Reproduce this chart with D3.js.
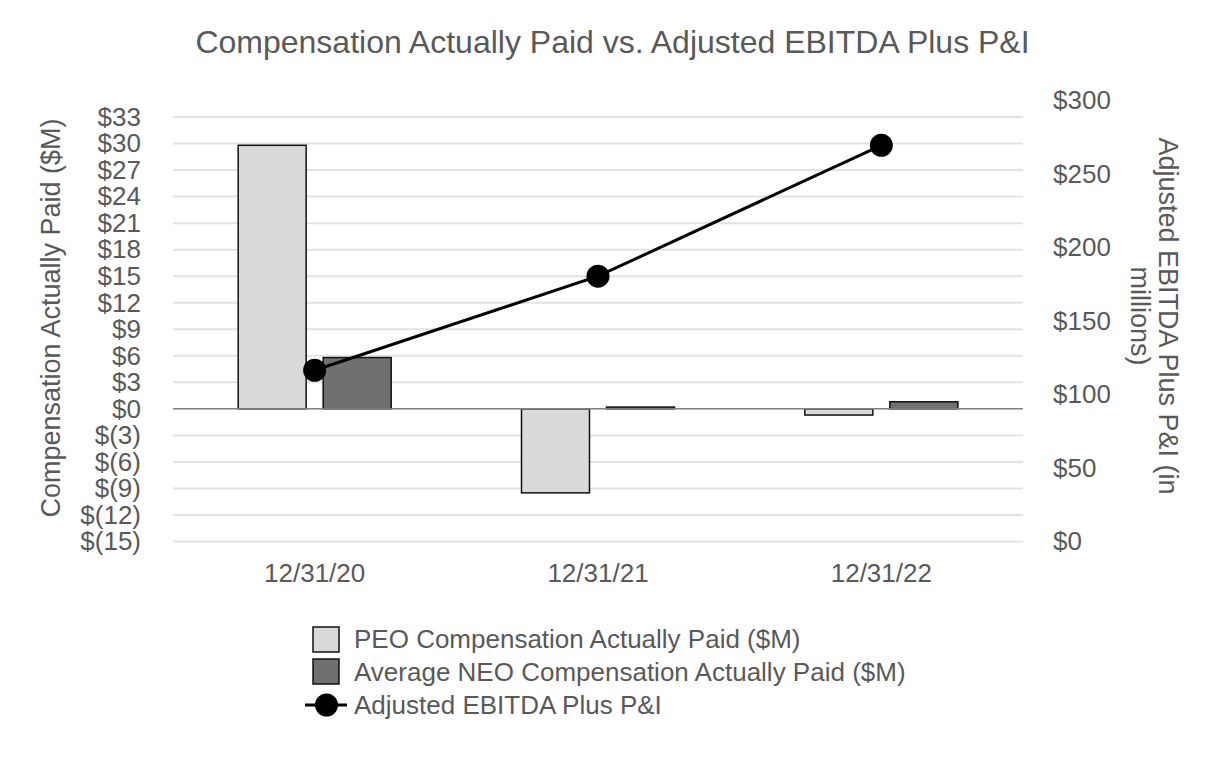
<!DOCTYPE html>
<html><head><meta charset="utf-8">
<script src="https://cdn.jsdelivr.net/npm/d3@7"></script>
<style>body{margin:0;background:#fff;} svg{display:block;font-family:"Liberation Sans",Arial,sans-serif;}</style>
</head><body>
<svg id="c" width="1226" height="760"></svg>
<script>
const categories = ["12/31/20", "12/31/21", "12/31/22"];
const peoValues = [29.8, -9.5, -0.7];
const neoValues = [5.8, 0.2, 0.8];
const ebitdaValues = [116.5, 180.5, 269.5];
const leftTicks = [-15,-12,-9,-6,-3,0,3,6,9,12,15,18,21,24,27,30,33];
const rightTicks = [0,50,100,150,200,250,300];
const seriesNames = ["PEO Compensation Actually Paid ($M)", "Average NEO Compensation Actually Paid ($M)", "Adjusted EBITDA Plus P&I"];

const svg = d3.select("#c");
const textColor = "#595959";
const FF = "Liberation Sans, Arial, sans-serif";
const plotL = 173, plotR = 1023, yBottom = 541.5;

const x = d3.scaleBand().domain(categories).range([plotL, plotR]);
const yL = d3.scaleLinear().domain([-15, 33]).range([yBottom, 117]);
const yR = d3.scaleLinear().domain([0, 300]).range([yBottom, 100.5]);

// title
svg.append("text").attr("x", 612.5).attr("y", 53).attr("text-anchor", "middle")
  .attr("font-size", 32).attr("fill", textColor)
  .text("Compensation Actually Paid vs. Adjusted EBITDA Plus P&I");

// gridlines
svg.append("g").selectAll("line").data(leftTicks.filter(d => d !== 0)).join("line")
  .attr("x1", plotL).attr("x2", plotR)
  .attr("y1", d => yL(d)).attr("y2", d => yL(d))
  .attr("stroke", "#e3e3e3").attr("stroke-width", 2);

// left axis
const leftFmt = d => d < 0 ? "$(" + Math.abs(d) + ")" : "$" + d;
const gL = svg.append("g").attr("transform", `translate(${plotL},0)`)
  .call(d3.axisLeft(yL).tickValues(leftTicks).tickFormat(leftFmt).tickSize(0).tickPadding(32));
gL.select(".domain").remove();
gL.selectAll("text").attr("font-size", 26).attr("fill", textColor).attr("font-family", FF);

// right axis
const gR = svg.append("g").attr("transform", `translate(${plotR},0)`)
  .call(d3.axisRight(yR).tickValues(rightTicks).tickFormat(d => "$" + d).tickSize(0).tickPadding(30));
gR.select(".domain").remove();
gR.selectAll("text").attr("font-size", 26).attr("fill", textColor).attr("font-family", FF);

// x axis labels
const gX = svg.append("g").attr("transform", `translate(0,${yBottom})`)
  .call(d3.axisBottom(x).tickSize(0).tickPadding(22));
gX.select(".domain").remove();
gX.selectAll("text").attr("font-size", 26).attr("fill", textColor).attr("font-family", FF);

// axis titles
svg.append("text").attr("transform", "translate(60,318) rotate(-90)").attr("text-anchor", "middle")
  .attr("font-size", 27).attr("fill", textColor).text("Compensation Actually Paid ($M)");
svg.append("text").attr("transform", "translate(1159,316) rotate(90)").attr("text-anchor", "middle")
  .attr("font-size", 27).attr("fill", textColor).text("Adjusted EBITDA Plus P&I (in");
svg.append("text").attr("transform", "translate(1131,316) rotate(90)").attr("text-anchor", "middle")
  .attr("font-size", 27).attr("fill", textColor).text("millions)");

// bars
const barW = 68, offset = 42.5;
const bars = svg.append("g");
bars.selectAll("rect.peo").data(categories).join("rect").attr("class", "peo")
  .attr("x", d => x(d) + x.bandwidth()/2 - offset - barW/2)
  .attr("width", barW)
  .attr("y", (d,i) => Math.min(yL(0), yL(peoValues[i])))
  .attr("height", (d,i) => Math.abs(yL(peoValues[i]) - yL(0)))
  .attr("fill", "#d9d9d9").attr("stroke", "#111").attr("stroke-width", 1.5);
bars.selectAll("rect.neo").data(categories).join("rect").attr("class", "neo")
  .attr("x", d => x(d) + x.bandwidth()/2 + offset - barW/2)
  .attr("width", barW)
  .attr("y", (d,i) => Math.min(yL(0), yL(neoValues[i])))
  .attr("height", (d,i) => Math.abs(yL(neoValues[i]) - yL(0)))
  .attr("fill", "#707070").attr("stroke", "#111").attr("stroke-width", 1.5);

// zero line
svg.append("line").attr("x1", plotL).attr("x2", plotR).attr("y1", yL(0)).attr("y2", yL(0))
  .attr("stroke", "#808080").attr("stroke-width", 1.5);

// line series
const line = d3.line().x((d,i) => x(categories[i]) + x.bandwidth()/2).y(d => yR(d));
svg.append("path").datum(ebitdaValues).attr("d", line).attr("fill", "none")
  .attr("stroke", "#000").attr("stroke-width", 3);
svg.append("g").selectAll("circle").data(ebitdaValues).join("circle")
  .attr("cx", (d,i) => x(categories[i]) + x.bandwidth()/2).attr("cy", d => yR(d))
  .attr("r", 11.5).attr("fill", "#000");

// legend
const lg = svg.append("g");
const lgRows = [639, 672, 705];
lg.append("rect").attr("x", 313).attr("y", 627).attr("width", 26).attr("height", 25)
  .attr("fill", "#d9d9d9").attr("stroke", "#111").attr("stroke-width", 1.5);
lg.append("rect").attr("x", 313).attr("y", 659).attr("width", 26).attr("height", 25)
  .attr("fill", "#707070").attr("stroke", "#111").attr("stroke-width", 1.5);
lg.append("line").attr("x1", 305).attr("x2", 347).attr("y1", 705).attr("y2", 705)
  .attr("stroke", "#000").attr("stroke-width", 3);
lg.append("circle").attr("cx", 326.5).attr("cy", 705).attr("r", 11.5).attr("fill", "#000");
lg.selectAll("text").data(seriesNames).join("text")
  .attr("x", 354).attr("y", (d,i) => lgRows[i]).attr("dy", "0.35em")
  .attr("font-size", 26).attr("fill", textColor).text(d => d);
</script>
</body></html>
